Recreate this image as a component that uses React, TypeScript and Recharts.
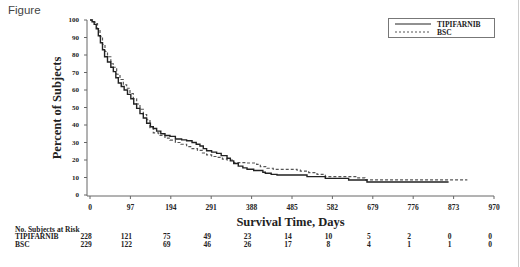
import React from "react";
import { LineChart, Line, XAxis, YAxis, Label } from "recharts";

const xTicks = [0, 97, 194, 291, 388, 485, 582, 679, 776, 873, 970];
const yTicks = [0, 10, 20, 30, 40, 50, 60, 70, 80, 90, 100];

const riskTipifarnib = [228, 121, 75, 49, 23, 14, 10, 5, 2, 0, 0];
const riskBsc = [229, 122, 69, 46, 26, 17, 8, 4, 1, 1, 0];

// Kaplan-Meier estimates (day, percent surviving)
const tipifarnibDays = [
  0, 5, 10, 15, 20, 25, 30, 35, 42, 50, 56, 62, 68, 75, 82, 90, 98, 105, 112, 120,
  128, 136, 145, 152, 160, 170, 180, 192, 205, 220, 232, 245, 255, 264, 272, 280,
  292, 304, 315, 329, 337, 345, 356, 367, 377, 393, 415, 421, 435, 449, 521, 565,
  621, 665, 861,
];
const tipifarnibPct = [
  100, 99, 97.5, 95, 91, 87, 83, 79, 76, 73, 70.5, 67, 64, 62, 60, 57.5, 55, 52, 49.5, 46.5,
  44, 41, 39, 38, 36.5, 35, 34, 33.5, 32, 31.5, 31, 30, 29, 28, 26.5, 25.3,
  24.5, 23.8, 22.5, 21, 19.5, 18, 16.5, 15.5, 14.7, 14, 13, 12.4, 11.8, 11.4, 10.5, 9.5,
  8.6, 7.4, 7.4,
];

const bscDays = [
  0, 6, 12, 18, 24, 30, 36, 42, 50, 56, 64, 72, 80, 88, 96, 104, 112, 120, 128, 136,
  144, 152, 165, 180, 192, 205, 218, 232, 245, 258, 270, 280, 292, 305, 318, 329,
  345, 377, 400, 409, 425, 440, 497, 505, 525, 545, 565, 641, 660, 906,
];
const bscPct = [
  100, 99, 98, 95, 90.5, 86, 82, 79, 75, 73, 69, 66, 63, 61, 58, 55, 52, 49, 46, 43,
  38.5, 35.5, 34, 32.5, 31.4, 30, 29, 27.6, 26.5, 25.5, 24, 22.9, 22, 21.5, 20.5, 20,
  18.5, 18.3, 17.5, 16.2, 15.3, 14.7, 14.2, 13.7, 12.8, 11.8, 10.5, 9.8, 8.6, 8.6,
];

const tipifarnibData = tipifarnibDays.map((day, i) => ({ day, pct: tipifarnibPct[i] }));
const bscData = bscDays.map((day, i) => ({ day, pct: bscPct[i] }));

const SERIF = "'Liberation Serif', 'Times New Roman', serif";
const AXIS = "#666";
const INK = "#222";
const small = { fontSize: 7.5, fontFamily: SERIF, fontWeight: 700, fill: INK };

// x tick: the day label under the axis plus the two at-risk counts further down
function DayTick(p: { x?: number | string; y?: number | string; payload?: { value: number } }) {
  const v = p.payload?.value ?? 0;
  const i = xTicks.indexOf(v);
  const px = Number(p.x ?? 0);
  const py = Number(p.y ?? 0);
  return (
    <g>
      <text x={px} y={py} dy={8} textAnchor="middle" {...small}>
        {v}
      </text>
      <text x={px - 4} y={239} textAnchor="middle" {...small}>{riskTipifarnib[i]}</text>
      <text x={px - 4} y={246.5} textAnchor="middle" {...small}>{riskBsc[i]}</text>
    </g>
  );
}

export default function App() {
  return (
    <div
      style={{
        position: "absolute",
        left: 0,
        top: 0,
        width: 520,
        height: 267,
        background: "#fff",
        overflow: "hidden",
      }}
    >
      <div
        style={{
          position: "absolute",
          left: 8,
          top: 4,
          fontFamily: "'Liberation Sans', Arial, sans-serif",
          fontSize: 11.5,
          color: "#444",
        }}
      >
        Figure
      </div>

      <LineChart
        width={520}
        height={267}
        margin={{ top: 20, right: 26, left: 47, bottom: 41 }}
      >
        <XAxis
          type="number"
          dataKey="day"
          domain={[0, 970]}
          ticks={xTicks}
          padding={{ left: 3, right: 0 }}
          height={30}
          stroke={AXIS}
          tickSize={3}
          tickMargin={3}
          interval={0}
          tick={DayTick}
        >
          <Label
            value="Survival Time, Days"
            position="insideBottom"
            offset={0}
            style={{ fontSize: 12.5, fontFamily: SERIF, fontWeight: 700, fill: INK }}
          />
        </XAxis>
        <YAxis
          type="number"
          domain={[0, 100]}
          ticks={yTicks}
          width={40}
          padding={{ top: 0, bottom: 1 }}
          stroke={AXIS}
          tickSize={3}
          tickMargin={5}
          interval={0}
          tick={{ ...small, fontSize: 7 }}
        >
          <Label
            value="Percent of Subjects"
            angle={-90}
            position="insideLeft"
            offset={10}
            style={{ textAnchor: "middle", fontSize: 12.5, fontFamily: SERIF, fontWeight: 700, fill: INK }}
          />
        </YAxis>
        <Line
          data={bscData}
          dataKey="pct"
          type="stepAfter"
          stroke="#555"
          strokeWidth={1.2}
          strokeDasharray="3 2"
          dot={false}
          isAnimationActive={false}
        />
        <Line
          data={tipifarnibData}
          dataKey="pct"
          type="stepAfter"
          stroke={INK}
          strokeWidth={1.4}
          dot={false}
          isAnimationActive={false}
        />
      </LineChart>

      <svg width={520} height={267} style={{ position: "absolute", left: 0, top: 0, pointerEvents: "none" }}>
        {/* at-risk table row headers */}
        <text x={15} y={231.5} {...small}>No. Subjects at Risk</text>
        <text x={15} y={239} {...small}>TIPIFARNIB</text>
        <text x={15} y={246.5} {...small}>BSC</text>

        {/* legend */}
        <rect x={388.5} y={18.5} width={106} height={19} fill="#fff" stroke="#777" strokeWidth={1} />
        <line x1={395} x2={431} y1={24} y2={24} stroke={INK} strokeWidth={1} />
        <line x1={395} x2={431} y1={32} y2={32} stroke="#555" strokeWidth={1} strokeDasharray="2 2" />
        <text x={437} y={26.5} {...small}>TIPIFARNIB</text>
        <text x={437} y={34.5} {...small}>BSC</text>

        <line x1={518.5} x2={518.5} y1={0} y2={267} stroke="#ccc" strokeWidth={1} />
      </svg>
    </div>
  );
}
